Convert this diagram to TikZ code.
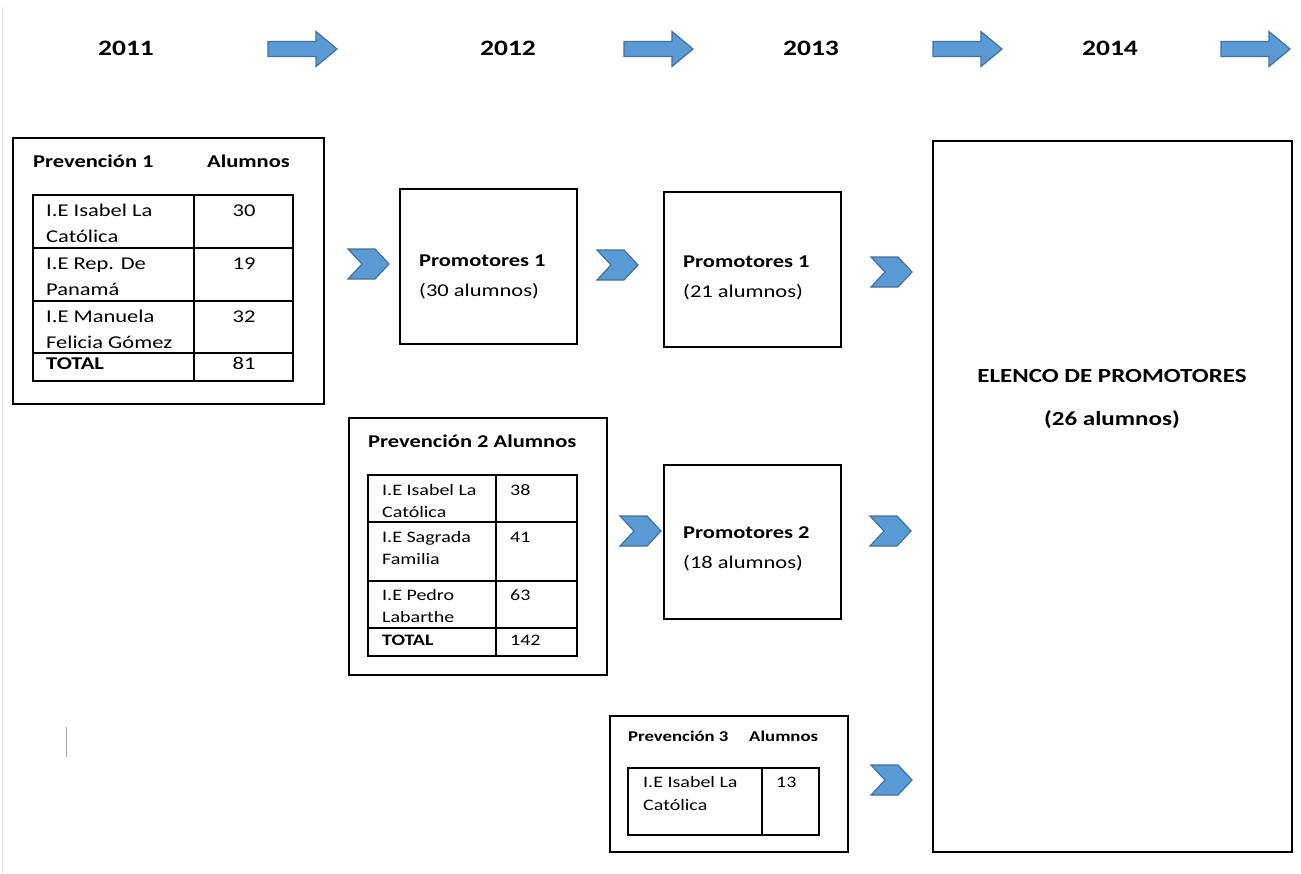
\documentclass[tikz,border=0pt]{standalone}
\usepackage{fontspec}
\setmainfont{Carlito}[FakeStretch=1.25]
\definecolor{arrowfill}{HTML}{5B9BD5}
\definecolor{arrowline}{HTML}{41719C}
\tikzset{
  frame/.style={draw=black, line width=1.3pt},
  grid/.style={draw=black, line width=1.1pt},
  bluemark/.style={fill=arrowfill, draw=arrowline, line width=1.2pt, line join=miter},
  txt/.style={anchor=base west, inner sep=0pt, align=left},
  num/.style={anchor=base, inner sep=0pt},
  year/.style={anchor=base, inner sep=0pt, font=\fontsize{22}{26}\selectfont\bfseries},
  big/.style={font=\fontsize{18}{26}\selectfont},
  mid/.style={font=\fontsize{16}{22.5}\selectfont},
  small/.style={font=\fontsize{16}{23}\selectfont},
  head/.style={font=\fontsize{18}{22}\selectfont\bfseries},
  promo/.style={txt, font=\fontsize{18}{30}\selectfont}
}
\begin{document}
\begin{tikzpicture}[x=1pt, y=-1pt]
\useasboundingbox (0,0) rectangle (1301,873);
\fill[white] (0,0) rectangle (1301,873);
\draw[black!12, line width=1pt] (2,7) -- (2,873);
\draw[black!35, line width=1pt] (66,727) -- (66,757);

\node[year] (y2011) at (126,55) {2011};
\node[year] (y2012) at (508,55) {2012};
\node[year] (y2013) at (811,55) {2013};
\node[year] (y2014) at (1110,55) {2014};

\foreach \x in {268,624,933,1221}
  \draw[bluemark, shift={(\x,49)}] (0,-7.5) -- (48,-7.5) -- (48,-17.5) -- (69,0)
    -- (48,17.5) -- (48,7.5) -- (0,7.5) -- cycle;

\foreach \x/\y in {348/264, 597/265, 871/272, 620/531, 870/531, 871/780}
  \draw[bluemark, shift={(\x,\y)}] (0,-15) -- (27,-15) -- (41,0) -- (27,15)
    -- (0,15) -- (14,0) -- cycle;

\begin{scope}
\draw[frame] (13,138) rectangle (324,404);
\node[txt, head] (p1) at (33,167) {Prevención 1};
\node[txt, head] (p1a) at (207,167) {Alumnos};
\draw[grid] (33,195) rectangle (293,381);
\draw[grid] (194,195) -- (194,381);
\draw[grid] (33,248) -- (293,248);
\draw[grid] (33,301) -- (293,301);
\draw[grid] (33,353) -- (293,353);
\node[txt, big] (p1r1) at (46,242) {I.E Isabel La\\Católica};
\node[txt, big] (p1r2) at (46,295) {I.E Rep. De\\Panamá};
\node[txt, big] (p1r3) at (46,348) {I.E Manuela\\Felicia Gómez};
\node[txt, big] (p1r4) at (46,369) {\textbf{TOTAL}};
\node[num, big] (p1n1) at (244,216) {30};
\node[num, big] (p1n2) at (244,269) {19};
\node[num, big] (p1n3) at (244,322) {32};
\node[num, big] (p1n4) at (244,369) {81};
\end{scope}

\begin{scope}
\draw[frame] (349,418) rectangle (607,675);
\node[txt, head] (p2) at (368,447) {Prevención 2 Alumnos};
\draw[grid] (368,475) rectangle (577,656);
\draw[grid] (496,475) -- (496,656);
\draw[grid] (368,522) -- (577,522);
\draw[grid] (368,581) -- (577,581);
\draw[grid] (368,628) -- (577,628);
\node[txt, mid] (p2r1) at (382,517.5) {I.E Isabel La\\Católica};
\node[txt, mid] (p2r2) at (382,564.5) {I.E Sagrada\\Familia};
\node[txt, mid] (p2r3) at (382,622.5) {I.E Pedro\\Labarthe};
\node[txt, mid] (p2r4) at (382,645) {\textbf{TOTAL}};
\node[txt, mid] (p2n1) at (510,495) {38};
\node[txt, mid] (p2n2) at (510,542) {41};
\node[txt, mid] (p2n3) at (510,600) {63};
\node[txt, mid] (p2n4) at (510,645) {142};
\end{scope}

\begin{scope}
\draw[frame] (610,716) rectangle (848,852);
\node[txt, font=\fontsize{15}{20}\selectfont\bfseries] (p3) at (628,741) {Prevención 3};
\node[txt, font=\fontsize{15}{20}\selectfont\bfseries] (p3a) at (749,741) {Alumnos};
\draw[grid] (628,768) rectangle (819,835);
\draw[grid] (762,768) -- (762,835);
\node[txt, small] (p3r1) at (643,810) {I.E Isabel La\\Católica};
\node[txt, small] (p3n1) at (776,787) {13};
\end{scope}

\draw[frame] (400,189) rectangle (577,344);
\node[promo] (pr1a) at (419,296) {\textbf{Promotores 1}\\(30 alumnos)};
\draw[frame] (664,192) rectangle (841,347);
\node[promo] (pr1b) at (683,297) {\textbf{Promotores 1}\\(21 alumnos)};
\draw[frame] (664,465) rectangle (841,619);
\node[promo] (pr2) at (683,568) {\textbf{Promotores 2}\\(18 alumnos)};

\draw[frame] (933,141) rectangle (1292,852);
\node[num, font=\fontsize{20}{24}\selectfont\bfseries] (elenco) at (1112,382) {ELENCO DE PROMOTORES};
\node[num, font=\fontsize{20}{24}\selectfont\bfseries] (total) at (1112,425) {(26 alumnos)};
\end{tikzpicture}
\end{document}
